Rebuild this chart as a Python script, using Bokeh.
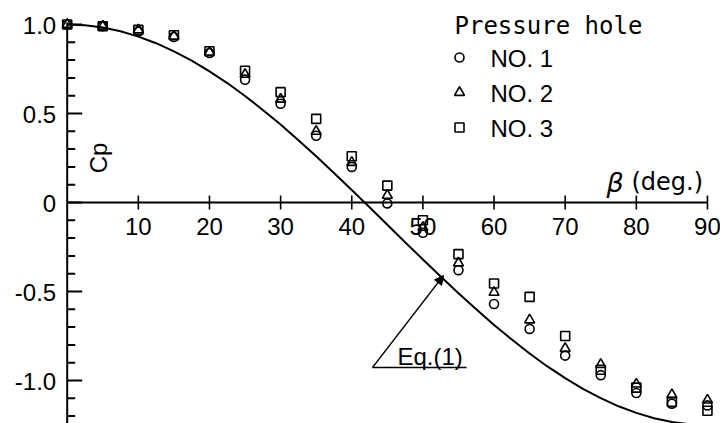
from bokeh.plotting import figure
from bokeh.models import Range1d, ColumnDataSource, Arrow, NormalHead
from bokeh.core.properties import value
from bokeh.embed import file_html
from bokeh.resources import INLINE

# Measured pressure coefficient at each angle, per pressure hole
BETA = [0, 5, 10, 15, 20, 25, 30, 35, 40, 45, 50, 55, 60, 65, 70, 75, 80, 85, 90]
CP_HOLE1 = [1.00, 0.99, 0.96, 0.93, 0.84, 0.69, 0.555, 0.375, 0.20, -0.005, -0.17,
            -0.38, -0.57, -0.71, -0.86, -0.97, -1.07, -1.13, -1.14]
CP_HOLE2 = [1.00, 0.99, 0.97, 0.935, 0.845, 0.72, 0.58, 0.40, 0.225, 0.04, -0.14,
            -0.34, -0.505, -0.66, -0.82, -0.91, -1.02, -1.08, -1.11]
CP_HOLE3 = [1.00, 0.99, 0.97, 0.94, 0.85, 0.74, 0.62, 0.47, 0.26, 0.095, -0.10,
            -0.29, -0.455, -0.53, -0.75, -0.94, -1.04, -1.12, -1.17]

# Eq.(1) curve
EQ1_BETA = [0, 2.5, 5, 7.5, 10, 12.5, 15, 17.5, 20, 22.5, 25, 27.5, 30, 32.5, 35,
            37.5, 40, 42.5, 45, 47.5, 50, 52.5, 55, 57.5, 60, 62.5, 65, 67.5, 70,
            72.5, 75, 77.5, 80, 82.5, 85, 87.5, 90]
EQ1_CP = [1.000, 0.996, 0.983, 0.962, 0.932, 0.895, 0.849, 0.797, 0.737, 0.671,
          0.598, 0.520, 0.438, 0.350, 0.260, 0.166, 0.070, -0.027, -0.125, -0.223,
          -0.320, -0.416, -0.510, -0.600, -0.688, -0.770, -0.848, -0.921, -0.987,
          -1.047, -1.099, -1.145, -1.182, -1.212, -1.233, -1.246, -1.250]

X_TICKS = [10, 20, 30, 40, 50, 60, 70, 80, 90]
X_TICK_LABELS = ["10", "20", "30", "40", "50", "60", "70", "80", "90"]
Y_TICKS = [1.0, 0.5, 0.0, -0.5, -1.0]
Y_TICK_LABELS = ["1.0", "0.5", "0", "-0.5", "-1.0"]
Y_MINOR = [0.9, 0.8, 0.7, 0.6, 0.4, 0.3, 0.2, 0.1, -0.1, -0.2, -0.3, -0.4,
           -0.6, -0.7, -0.8, -0.9, -1.1, -1.2]

SERIES_NAMES = ["NO. 1", "NO. 2", "NO. 3"]

W, H = 720, 423
PX_X = 7.114   # pixels per degree
PX_Y = 178.0   # pixels per unit of Cp
X0 = -66.7 / PX_X
Y1 = 202.0 / PX_Y


def px_x(px):
    return (px - 66.7) / PX_X


def px_y(px):
    return (202.0 - px) / PX_Y


p = figure(width=W, height=H, output_backend="svg", toolbar_location=None,
           x_range=Range1d(X0, X0 + W / PX_X), y_range=Range1d(Y1 - H / PX_Y, Y1),
           x_axis_type=None, y_axis_type=None, min_border=0)
p.grid.visible = False
p.outline_line_color = None
p.background_fill_color = "white"
p.border_fill_color = "white"

dx = 1.0 / PX_X
dy = 1.0 / PX_Y
INK = "black"
NUM_FONT = value("Liberation Sans")

# axes drawn through the origin
p.segment(x0=[0], y0=[1.0 + 2 * dy], x1=[0], y1=[Y1 - H / PX_Y], line_color=INK, line_width=2)
p.segment(x0=[0], y0=[0], x1=[90], y1=[0], line_color=INK, line_width=2)

# y ticks point inward
p.segment(x0=[0] * len(Y_TICKS), y0=Y_TICKS, x1=[15 * dx] * len(Y_TICKS), y1=Y_TICKS,
          line_color=INK, line_width=2)
p.segment(x0=[0] * len(Y_MINOR), y0=Y_MINOR, x1=[8 * dx] * len(Y_MINOR), y1=Y_MINOR,
          line_color=INK, line_width=2)
# x ticks cross the axis
p.segment(x0=X_TICKS, y0=[7 * dy] * len(X_TICKS), x1=X_TICKS, y1=[-7 * dy] * len(X_TICKS),
          line_color=INK, line_width=1.6)

p.text(x=[0] * len(Y_TICKS), y=Y_TICKS, text=Y_TICK_LABELS, x_offset=-11, y_offset=1,
       text_align="right", text_baseline="middle", text_font=NUM_FONT,
       text_font_size="24px", text_color=INK)
p.text(x=X_TICKS, y=[0] * len(X_TICKS), text=X_TICK_LABELS, y_offset=24,
       text_align="center", text_baseline="middle", text_font=NUM_FONT,
       text_font_size="24px", text_color=INK)

# axis titles
p.text(x=[4.4], y=[0.25], text=["Cp"], angle=1.5708, text_align="center",
       text_baseline="middle", text_font=NUM_FONT, text_font_size="24px", text_color=INK)
p.text(x=[px_x(606)], y=[px_y(182)], text=["\u03b2"],
       text_align="left", text_baseline="middle", text_font=value("DejaVu Sans"),
       text_font_style="italic", text_font_size="27px", text_color=INK)
p.text(x=[px_x(631)], y=[px_y(181)], text=["(deg.)"],
       text_align="left", text_baseline="middle", text_font=value("DejaVu Sans"),
       text_font_size="24px", text_color=INK)

# theoretical curve
p.line(EQ1_BETA, EQ1_CP, line_color=INK, line_width=2)

# measurements
src = ColumnDataSource(dict(beta=BETA, c1=CP_HOLE1, c2=CP_HOLE2, c3=CP_HOLE3))
marker_kw = dict(fill_alpha=0, line_color=INK, line_width=1.6)
p.scatter("beta", "c1", source=src, marker="circle", size=9, **marker_kw)
p.scatter("beta", "c2", source=src, marker="triangle", size=10, **marker_kw)
p.scatter("beta", "c3", source=src, marker="square", size=9, **marker_kw)

# legend block
LX = px_x(459)
LY = [px_y(57), px_y(92), px_y(127)]
p.text(x=[px_x(454)], y=[px_y(25)], text=["Pressure hole"],
       text_align="left", text_baseline="middle", text_font=value("DejaVu Sans Mono"),
       text_font_size="24px", text_color=INK)
for mk, sz, yy in zip(["circle", "triangle", "square"], [9, 10, 9], LY):
    p.scatter([LX], [yy], marker=mk, size=sz, **marker_kw)
p.text(x=[px_x(490)] * 3, y=LY, text=SERIES_NAMES, y_offset=1,
       text_align="left", text_baseline="middle", text_font=NUM_FONT,
       text_font_size="24px", text_color=INK)

# Eq.(1) callout
ex0, ey0 = px_x(372), px_y(367)
ex1 = px_x(466)
p.segment(x0=[ex0], y0=[ey0], x1=[ex1], y1=[ey0], line_color=INK, line_width=1.6)
p.add_layout(Arrow(end=NormalHead(size=9, fill_color=INK, line_color=INK, line_width=1),
                   x_start=ex0, y_start=ey0, x_end=52.9, y_end=-0.41,
                   line_color=INK, line_width=1.3))
p.text(x=[px_x(397)], y=[px_y(356)], text=["Eq.(1)"],
       text_align="left", text_baseline="middle", text_font=NUM_FONT,
       text_font_size="24px", text_color=INK)

open("out.html", "w").write(file_html(p, INLINE))
